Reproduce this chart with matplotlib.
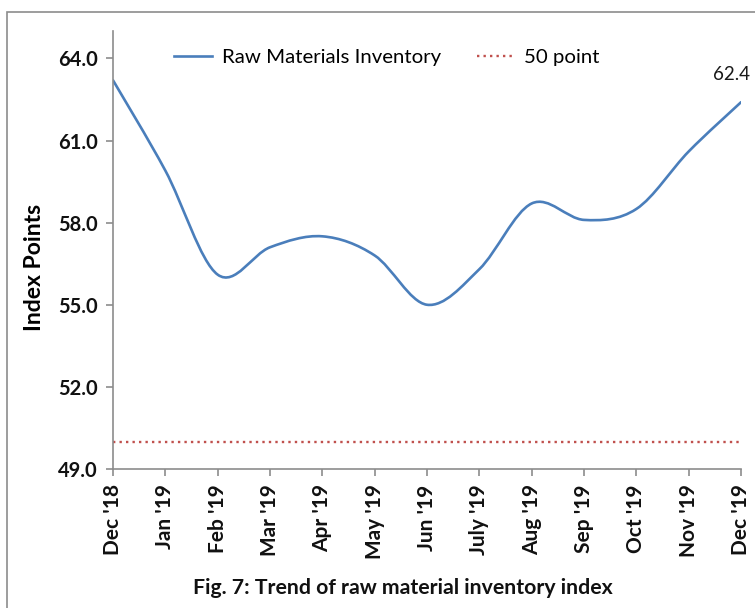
import matplotlib
matplotlib.use("Agg")
import matplotlib.pyplot as plt
from matplotlib.path import Path
from matplotlib.patches import PathPatch, Rectangle
from matplotlib.lines import Line2D

months = ["Dec '18", "Jan '19", "Feb '19", "Mar '19", "Apr '19", "May '19", "Jun '19",
          "July '19", "Aug '19", "Sep '19", "Oct '19", "Nov '19", "Dec '19"]
raw_inventory = [63.2, 59.9, 56.1, 57.1, 57.5, 56.8, 55.0, 56.3, 58.7, 58.1, 58.5, 60.6, 62.4]
threshold = [50.0] * len(months)
y_ticks = [49.0, 52.0, 55.0, 58.0, 61.0, 64.0]

blue = "#4A7EBB"
red = "#C0504D"
grey = "#8C8C8C"
font = "Lato"

plt.rcParams["font.family"] = [font, "DejaVu Sans"]

fig = plt.figure(figsize=(7.55, 6.08), dpi=100)
ax = fig.add_axes([0.1497, 0.2286, 0.8318, 0.7204])

# outer chart frame
fig.patches.append(Rectangle((7 / 755, -0.1), 1.2, 1 - 12 / 608 + 0.1,
                             transform=fig.transFigure, fill=False,
                             edgecolor=grey, linewidth=1.2))

# smoothed line like Excel (Catmull-Rom as cubic Bezier)
xs = list(range(len(raw_inventory)))
pts = list(zip(xs, raw_inventory))
verts = [pts[0]]
codes = [Path.MOVETO]
for i in range(len(pts) - 1):
    p0 = pts[i - 1] if i > 0 else pts[i]
    p1 = pts[i]
    p2 = pts[i + 1]
    p3 = pts[i + 2] if i + 2 < len(pts) else pts[i + 1]
    c1 = (p1[0] + (p2[0] - p0[0]) / 6, p1[1] + (p2[1] - p0[1]) / 6)
    c2 = (p2[0] - (p3[0] - p1[0]) / 6, p2[1] - (p3[1] - p1[1]) / 6)
    verts += [c1, c2, p2]
    codes += [Path.CURVE4] * 3
ax.add_patch(PathPatch(Path(verts, codes), fill=False, edgecolor=blue,
                       linewidth=1.9, capstyle="round", joinstyle="round"))

dots = (0, (1, 1.75))
ax.plot(xs, threshold, color=red, linewidth=1.7, linestyle=dots)

ax.annotate(f"{raw_inventory[-1]:.1f}", (xs[-1], raw_inventory[-1]),
            xytext=(-7, 14), textcoords="offset points", ha="center", va="bottom",
            fontsize=13.5, color="#1a1a1a")

ax.set_xlim(0, 12)
ax.set_ylim(49, 65)
ax.set_xticks(xs)
ax.set_xticklabels(months, rotation=90, fontsize=15, fontweight="bold")
ax.set_yticks(y_ticks)
ax.set_yticklabels([f"{v:.1f}" for v in y_ticks], fontsize=14.5, fontweight="bold")

for s in ["top", "right"]:
    ax.spines[s].set_visible(False)
for s in ["left", "bottom"]:
    ax.spines[s].set_color(grey)
    ax.spines[s].set_linewidth(1.2)
ax.tick_params(axis="both", direction="out", length=5, width=1.2, color=grey,
               labelcolor="#111111", pad=6)

ax.set_ylabel("Index Points", fontsize=16.5, fontweight="bold")
ax.yaxis.set_label_coords(-0.108, 0.461)

handles = [Line2D([], [], color=blue, linewidth=1.9),
           Line2D([], [], color=red, linewidth=1.7, linestyle=dots)]
ax.legend(handles, ["Raw Materials Inventory", "50 point"], ncol=2, frameon=False,
          loc="center", bbox_to_anchor=(0.436, 0.94), fontsize=14.7,
          handlelength=1.9, handletextpad=0.45, columnspacing=1.75)

fig.text(403 / 755, 1 - 588 / 608, "Fig. 7: Trend of raw material inventory index",
         ha="center", va="center", fontsize=15.3, fontweight="bold", color="#111111")

fig.savefig("out.png", dpi=100)
